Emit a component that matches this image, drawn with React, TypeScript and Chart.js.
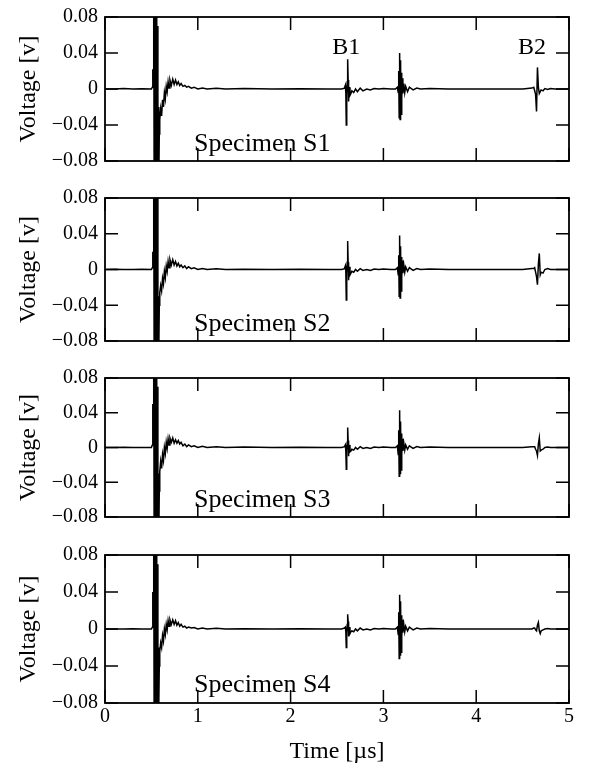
import React, { useEffect, useRef } from 'react';
import { Chart, registerables } from 'chart.js';

Chart.register(...registerables);

// ---------- data ----------
const timeUs = [
  0, 0.1, 0.2, 0.3, 0.4, 0.5,
  0.51, 0.515, 0.52, 0.525, 0.53, 0.535, 0.54, 0.545, 0.55, 0.555, 0.56, 0.565, 0.57, 0.575, 0.58, 0.585,
  0.59, 0.6, 0.61, 0.62, 0.63, 0.64, 0.65, 0.66, 0.67, 0.68, 0.69, 0.7,
  0.715, 0.73, 0.745, 0.76, 0.775, 0.79, 0.805, 0.82, 0.84, 0.86, 0.88, 0.9,
  0.93, 0.96, 1.0, 1.05, 1.1, 1.2, 1.3, 1.5, 1.8, 2.1, 2.4, 2.55,
  2.58, 2.59, 2.595, 2.6, 2.605, 2.61, 2.615, 2.62, 2.625, 2.63, 2.64, 2.65,
  2.66, 2.68, 2.7, 2.72, 2.75, 2.78, 2.82, 2.86, 2.9, 2.95, 3.0, 3.08,
  3.13, 3.15, 3.16, 3.165, 3.17, 3.175, 3.18, 3.185, 3.19, 3.195, 3.2, 3.205,
  3.21, 3.22, 3.23, 3.24, 3.26, 3.28, 3.32, 3.36, 3.4, 3.5, 3.7, 4.0,
  4.3, 4.5, 4.6, 4.62, 4.63, 4.64, 4.65, 4.66, 4.67, 4.68, 4.69, 4.7,
  4.72, 4.74, 4.77, 4.8, 4.85, 4.9, 5.0,
];

const voltS1 = [
  0, 0, 0.0006, 0, 0.0004, 0,
  0.002, 0.022, 0.012, 0.13, -0.13, 0.14, -0.15, 0.13, -0.14, 0.11, -0.13, 0.07, -0.12, -0.02, -0.1, -0.05,
  -0.034, -0.022, -0.03, -0.012, -0.02, -0.004, -0.011, 0.003, -0.003, 0.008, 0.001, 0.01,
  0.004, 0.011, 0.005, 0.01, 0.005, 0.008, 0.004, 0.006, 0.003, 0.004, 0.002, 0.003,
  0.001, 0.002, 0, 0.001, 0, 0.0008, 0, 0.0005, 0, 0.0004, 0, 0,
  0.001, 0.004, -0.004, -0.04, -0.006, 0.008, 0.033, 0.01, -0.014, 0.002, -0.007, -0.005,
  -0.002, -0.004, 0, -0.003, 0.001, -0.002, 0, -0.001, 0.0005, 0, 0.0005, 0,
  0, 0.002, -0.004, 0.02, -0.032, 0.04, -0.034, 0.032, -0.028, 0.018, -0.01, 0.012,
  -0.005, 0.006, -0.004, 0.003, -0.003, 0.002, -0.001, 0.001, 0, 0.0005, 0, 0,
  0, 0, 0.001, 0.002, -0.002, -0.006, -0.025, 0.024, 0.002, -0.005, -0.003, -0.001,
  -0.002, 0.0005, -0.0005, 0.0005, 0, 0, 0,
];

const voltS2 = [
  0, 0.0004, 0, 0, 0.0003, 0,
  0.002, 0.02, 0.01, 0.12, -0.12, 0.14, -0.15, 0.13, -0.14, 0.12, -0.13, 0.08, -0.12, -0.03, -0.09, -0.04,
  -0.026, -0.018, -0.024, -0.01, -0.016, -0.002, -0.009, 0.004, -0.002, 0.009, 0.002, 0.011,
  0.005, 0.011, 0.005, 0.009, 0.004, 0.007, 0.003, 0.005, 0.002, 0.004, 0.001, 0.003,
  0.001, 0.002, 0, 0.001, 0, 0.0008, 0, 0.0004, 0, 0.0004, 0, 0,
  0.001, 0.004, -0.002, -0.034, -0.004, 0.008, 0.032, 0.008, -0.012, 0.003, -0.006, -0.004,
  -0.002, -0.003, 0, -0.002, 0.001, -0.001, 0, -0.001, 0.0005, 0, 0.0005, 0,
  0, 0.002, -0.006, 0.016, -0.03, 0.038, -0.032, 0.026, -0.024, 0.014, -0.008, 0.01,
  -0.004, 0.005, -0.003, 0.003, -0.002, 0.002, -0.001, 0.001, 0, 0.0005, 0, 0,
  0, 0, 0.001, 0.001, 0.002, -0.003, -0.008, -0.017, 0.006, 0.018, -0.006, -0.003,
  -0.004, 0, 0.001, 0, 0, 0, 0,
];

const voltS3 = [
  0, 0, 0.0004, 0, 0, 0,
  0.003, 0.05, 0.012, 0.13, -0.13, 0.15, -0.15, 0.14, -0.14, 0.12, -0.13, 0.07, -0.12, -0.03, -0.1, -0.05,
  -0.028, -0.016, -0.024, -0.008, -0.015, 0, -0.007, 0.006, -0.001, 0.01, 0.003, 0.011,
  0.006, 0.011, 0.005, 0.009, 0.005, 0.008, 0.004, 0.006, 0.002, 0.004, 0.001, 0.003,
  0.001, 0.002, 0, 0.0015, 0, 0.001, 0, 0.0005, 0, 0.0004, 0, 0,
  0.001, 0.003, -0.004, -0.025, -0.004, 0.006, 0.023, 0.008, -0.01, 0.003, -0.005, -0.004,
  -0.002, -0.003, 0, -0.002, 0.001, -0.001, 0, -0.001, 0.0005, 0, 0.0005, 0,
  0, 0.002, -0.008, 0.02, -0.033, 0.043, -0.03, 0.03, -0.026, 0.016, -0.008, 0.01,
  -0.004, 0.005, -0.003, 0.003, -0.002, 0.002, -0.001, 0.001, 0, 0.0005, 0, 0,
  0, 0, 0.001, 0.001, 0.001, -0.002, -0.004, -0.009, 0.004, 0.011, -0.004, -0.003,
  -0.002, 0, 0.0005, 0, 0, 0, 0,
];

const voltS4 = [
  0, 0, 0, 0.0004, 0, 0,
  0.002, 0.04, 0.015, 0.12, -0.13, 0.14, -0.15, 0.13, -0.14, 0.11, -0.12, 0.07, -0.11, -0.02, -0.08, -0.04,
  -0.024, -0.015, -0.02, -0.007, -0.013, 0, -0.006, 0.005, -0.001, 0.009, 0.003, 0.01,
  0.005, 0.01, 0.005, 0.009, 0.004, 0.007, 0.003, 0.005, 0.002, 0.003, 0.001, 0.002,
  0.001, 0.0015, 0, 0.001, 0, 0.0008, 0, 0.0004, 0, 0.0004, 0, 0,
  0.001, 0.002, -0.003, -0.02, -0.004, 0.005, 0.016, 0.008, -0.008, 0.002, -0.005, -0.003,
  -0.002, -0.003, 0, -0.002, 0.001, -0.001, 0, -0.001, 0.0005, 0, 0.0005, 0,
  0, 0.002, -0.006, 0.018, -0.032, 0.037, -0.028, 0.03, -0.025, 0.015, -0.008, 0.01,
  -0.004, 0.005, -0.003, 0.003, -0.002, 0.002, -0.001, 0.001, 0, 0.0005, 0, 0,
  0, 0, 0, 0.001, 0.001, -0.001, -0.002, 0.004, 0.007, -0.002, -0.005, -0.002,
  -0.001, 0, 0.0005, 0, 0, 0, 0,
];

const specimenVolts = [voltS1, voltS2, voltS3, voltS4];
const specimenNames = ['Specimen S1', 'Specimen S2', 'Specimen S3', 'Specimen S4'];

const xTickValues = [0, 1, 2, 3, 4, 5];
const xTickLabels = ['0', '1', '2', '3', '4', '5'];
const yTickValues = [-0.08, -0.04, 0, 0.04, 0.08];
const yTickLabels = ['\u22120.08', '\u22120.04', '0', '0.04', '0.08'];

const echoLabels = ['B1', 'B2'];
const echoLabelTimes = [2.6, 4.6];
const echoLabelVolt = 0.046;
const specimenLabelTime = 0.96;
const specimenLabelVolt = -0.061;

// ---------- layout ----------
const SERIF = '"Liberation Serif", "Times New Roman", Times, serif';
const PANELS = [
  { top: 12, bottom: 166 },
  { top: 193, bottom: 346 },
  { top: 373, bottom: 522 },
  { top: 550, bottom: 703 },
];
const PAD_TOP = 14;
const PAD_BOTTOM = 14;
const PAGE_H = 768;
const PAGE_W = 589;

function makeFramePlugin(index: number) {
  return {
    id: 'frame' + index,
    afterDatasetsDraw(chart: any) {
      const { ctx, chartArea, scales } = chart;
      const { left, right, top, bottom } = chartArea;
      const x = scales.x;
      const y = scales.y;
      const TL = 13;
      ctx.save();
      ctx.strokeStyle = '#000';
      ctx.lineWidth = 1.8;
      ctx.strokeRect(left, top, right - left, bottom - top);
      ctx.lineWidth = 1.5;
      ctx.beginPath();
      xTickValues.forEach((v) => {
        const px = x.getPixelForValue(v);
        ctx.moveTo(px, bottom);
        ctx.lineTo(px, bottom - TL);
        ctx.moveTo(px, top);
        ctx.lineTo(px, top + TL);
      });
      yTickValues.forEach((v) => {
        const py = y.getPixelForValue(v);
        ctx.moveTo(left, py);
        ctx.lineTo(left + TL, py);
        ctx.moveTo(right, py);
        ctx.lineTo(right - TL, py);
      });
      ctx.stroke();

      ctx.fillStyle = '#000';
      ctx.textBaseline = 'middle';
      ctx.textAlign = 'left';
      ctx.font = `26px ${SERIF}`;
      ctx.fillText(
        specimenNames[index],
        x.getPixelForValue(specimenLabelTime),
        y.getPixelForValue(specimenLabelVolt)
      );
      if (index === 0) {
        ctx.font = `24px ${SERIF}`;
        ctx.textAlign = 'center';
        echoLabels.forEach((lbl, i) => {
          ctx.fillText(lbl, x.getPixelForValue(echoLabelTimes[i]), y.getPixelForValue(echoLabelVolt));
        });
      }
      ctx.restore();
    },
  };
}

function Panel({ index }: { index: number }) {
  const ref = useRef<HTMLCanvasElement | null>(null);
  const isLast = index === PANELS.length - 1;
  const p = PANELS[index];
  const canvasTop = p.top - PAD_TOP;
  const canvasH = isLast ? PAGE_H - canvasTop : p.bottom - p.top + PAD_TOP + PAD_BOTTOM;

  useEffect(() => {
    if (!ref.current) return;
    const volts = specimenVolts[index];
    const points = timeUs.map((t, i) => ({ x: t, y: volts[i] }));
    const tickFont = { family: SERIF, size: 20 };
    const titleFont = { family: SERIF, size: 24 };
    const chart = new Chart(ref.current, {
      type: 'line',
      data: {
        datasets: [
          {
            data: points,
            borderColor: '#000',
            borderWidth: 1.5,
            pointRadius: 0,
            tension: 0,
            fill: false,
          },
        ],
      },
      options: {
        animation: false,
        responsive: false,
        maintainAspectRatio: false,
        events: [],
        layout: {
          padding: { left: 0, right: 20, top: PAD_TOP, bottom: isLast ? 0 : PAD_BOTTOM },
        },
        plugins: {
          legend: { display: false },
          tooltip: { enabled: false },
        },
        scales: {
          x: {
            type: 'linear',
            position: 'bottom',
            min: 0,
            max: 5,
            grid: { display: false, drawTicks: false, tickLength: 0 },
            border: { display: false },
            afterBuildTicks: (s: any) => {
              s.ticks = xTickValues.map((v) => ({ value: v }));
            },
            ticks: {
              display: isLast,
              padding: 2,
              color: '#000',
              font: tickFont,
              maxRotation: 0,
              autoSkip: false,
              callback: (_v: any, i: number) => xTickLabels[i],
            },
            title: {
              display: isLast,
              text: 'Time [\u00b5s]',
              color: '#000',
              font: titleFont,
              padding: { top: 0, bottom: 2 },
            },
            afterFit: (s: any) => {
              s.height = isLast ? PAGE_H - p.bottom : 0;
            },
          },
          y: {
            type: 'linear',
            min: -0.08,
            max: 0.08,
            grid: { display: false, drawTicks: false, tickLength: 0 },
            border: { display: false },
            afterBuildTicks: (s: any) => {
              s.ticks = yTickValues.map((v) => ({ value: v }));
            },
            ticks: {
              padding: 7,
              color: '#000',
              font: tickFont,
              autoSkip: false,
              callback: (_v: any, i: number) => yTickLabels[i],
            },
            title: {
              display: true,
              text: 'Voltage [v]',
              color: '#000',
              font: titleFont,
              padding: { top: 14.6, bottom: 0 },
            },
            afterFit: (s: any) => {
              s.width = 105;
            },
          },
        },
      } as any,
      plugins: [makeFramePlugin(index)],
    });
    return () => chart.destroy();
  }, [index]);

  return (
    <canvas
      ref={ref}
      width={PAGE_W}
      height={canvasH}
      style={{ position: 'absolute', left: 0, top: canvasTop, width: PAGE_W, height: canvasH }}
    />
  );
}

export default function App() {
  return (
    <div
      style={{
        position: 'absolute',
        left: 0,
        top: 0,
        width: PAGE_W,
        height: PAGE_H,
        background: '#fff',
        overflow: 'hidden',
      }}
    >
      {PANELS.map((_, i) => (
        <Panel key={i} index={i} />
      ))}
    </div>
  );
}
